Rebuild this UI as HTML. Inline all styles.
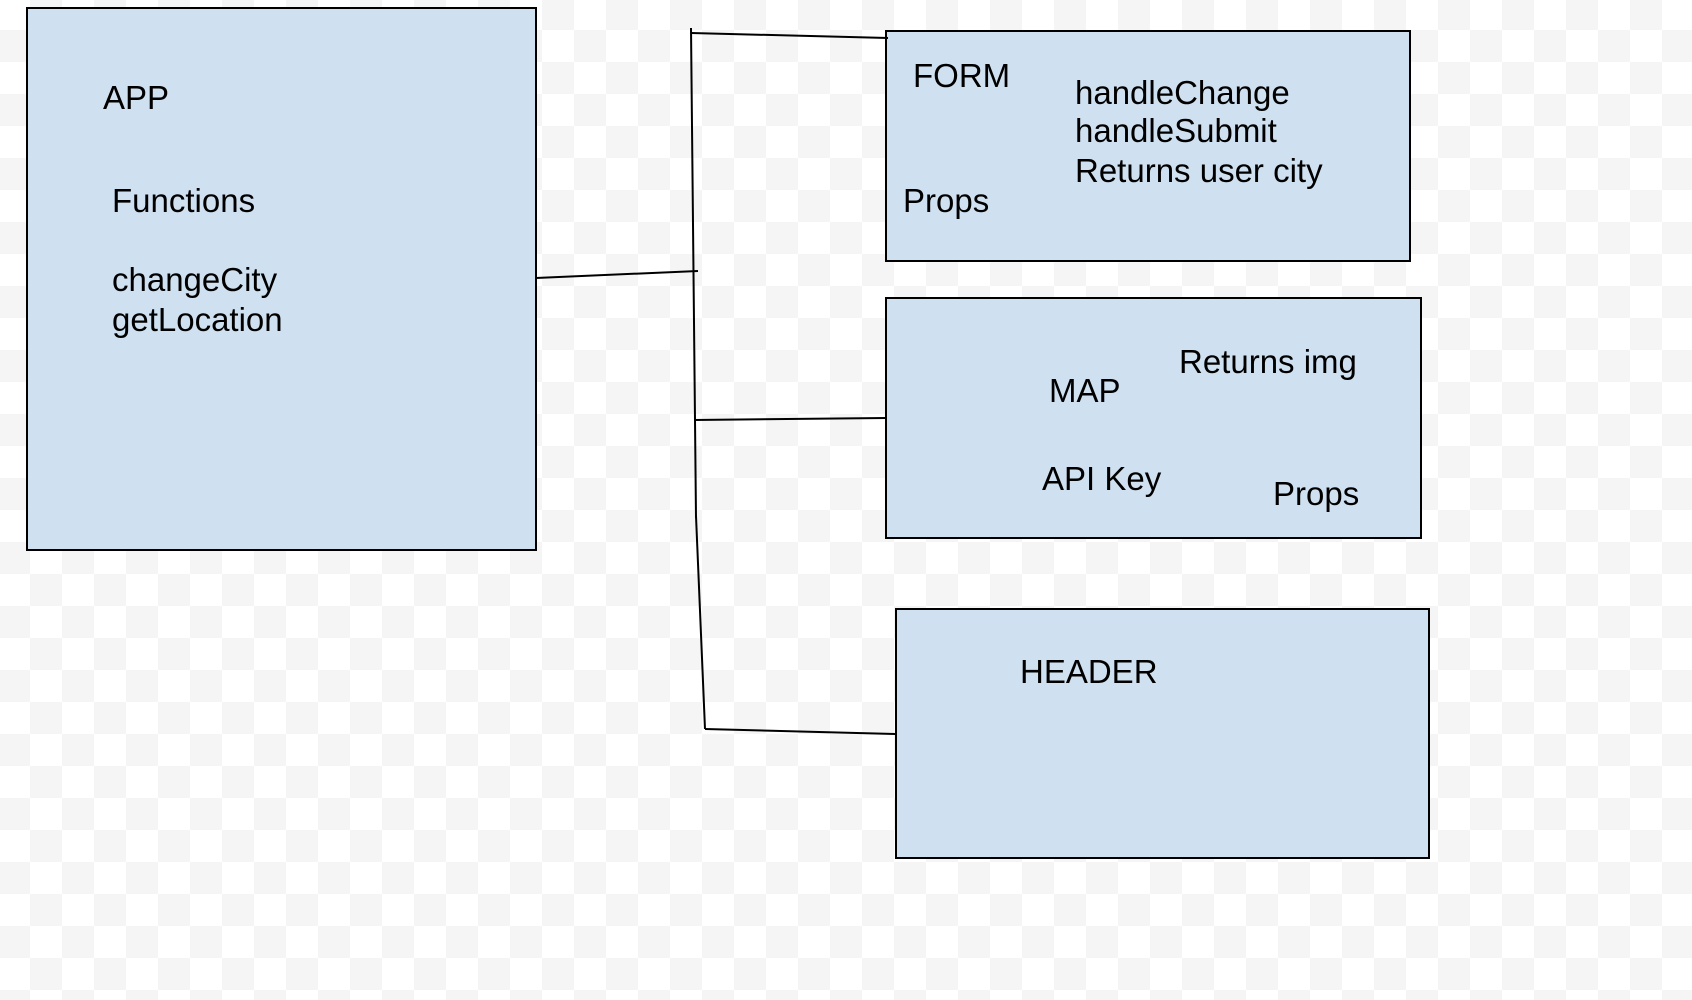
<!DOCTYPE html>
<html><head><style>
html,body{margin:0;padding:0;}
body{width:1692px;height:1000px;overflow:hidden;background-color:#fff;
background-image:conic-gradient(#f5f5f5 25%,#fff 0 50%,#f5f5f5 0 75%,#fff 0);
background-size:64px 64px;background-position:30px 30px;}
svg{position:absolute;left:0;top:0}
text{font-family:"Liberation Sans",Arial,sans-serif;font-size:33px;fill:#000}
</style></head><body>
<svg width="1692" height="1000">
<g fill="#cfe0f0" stroke="#000" stroke-width="2">
<rect x="27" y="8" width="509" height="542"/>
<rect x="886" y="31" width="524" height="230"/>
<rect x="886" y="298" width="535" height="240"/>
<rect x="896" y="609" width="533" height="249"/>
</g>
<g stroke="#000" stroke-width="2" fill="none">
<line x1="691" y1="28" x2="696" y2="518"/>
<line x1="696" y1="516" x2="705" y2="729"/>
<line x1="691" y1="33" x2="888" y2="38"/>
<line x1="536" y1="278" x2="698" y2="271"/>
<line x1="694" y1="420" x2="886" y2="418"/>
<line x1="705" y1="729" x2="896" y2="734"/>
</g>
<text x="103" y="109">APP</text>
<text x="112" y="212">Functions</text>
<text x="112" y="291">changeCity</text>
<text x="112" y="331">getLocation</text>
<text x="913" y="87">FORM</text>
<text x="1075" y="104">handleChange</text>
<text x="1075" y="142">handleSubmit</text>
<text x="1075" y="182">Returns user city</text>
<text x="903" y="212">Props</text>
<text x="1049" y="402">MAP</text>
<text x="1179" y="373">Returns img</text>
<text x="1042" y="490">API Key</text>
<text x="1273" y="505">Props</text>
<text x="1020" y="683">HEADER</text>
</svg>
</body></html>
